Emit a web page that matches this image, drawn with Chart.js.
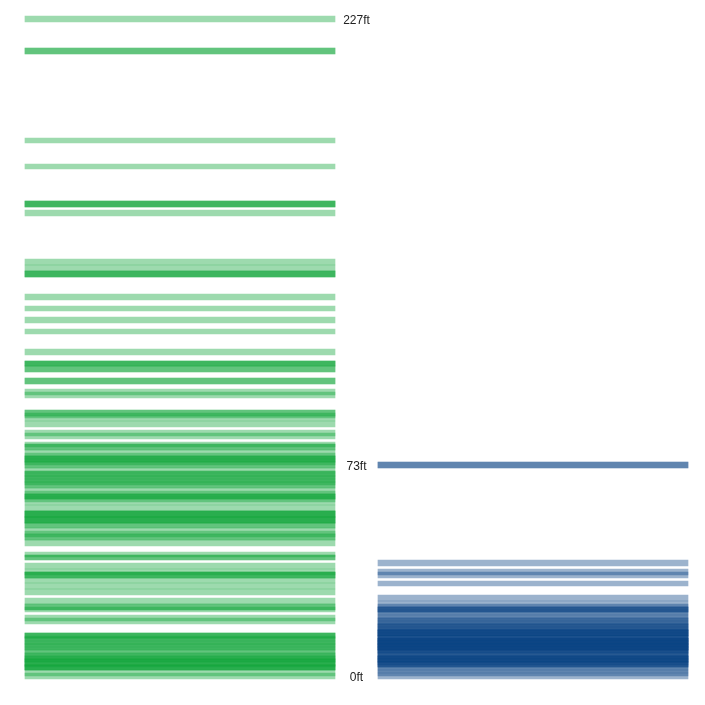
<!DOCTYPE html>
<html lang="en">
<head>
  <meta charset="UTF-8" />
  <title>Height barcode</title>
  <script src="https://cdn.jsdelivr.net/npm/chart.js"></script>
  <style>
    body {
      margin: 0;
      background: #fff;
    }
    canvas {
      display: block;
    }
  </style>
</head>
<body>
  <canvas id="barcode" width="705" height="705"></canvas>

  <script>
    // Two columns, one stripe per item at its height (ft)
    const columns = ['green', 'blue'];

    const greenHeights = [
      227, 216, 216, 185, 176, 163, 163, 163, 160, 143, 141, 139, 139, 139,
      131, 127, 123, 119, 112, 108, 108, 108, 106, 106, 102, 102, 98, 97,
      91, 91, 90, 89, 87, 84, 83, 80, 79, 79, 77, 76, 75, 75, 75, 74, 73, 73,
      71, 70, 70, 69, 68, 68, 67, 66, 66, 64, 63, 62, 62, 62, 61, 60, 58,
      56, 56, 56, 56, 54, 54, 54, 54, 52, 52, 50, 49, 48, 48, 46, 42, 41, 41,
      38, 36, 35, 35, 35, 33, 31, 29, 26, 24, 24, 23, 20, 19,
      14, 14, 14, 13, 12, 12, 11, 10, 10, 9, 8, 7, 7, 6, 6, 5, 5, 5, 4,
      3, 3, 3, 3, 1, 0
    ];

    const blueHeights = [
      73, 73, 39, 36, 35, 32, 27, 25, 24, 23, 23, 23, 22, 21, 20, 19, 19, 18,
      17, 17, 17, 16, 15, 15, 15, 15, 15, 14, 13, 13, 13, 12, 12, 12, 12,
      11, 11, 11, 10, 10, 10, 10, 9, 9, 9, 8, 8, 7, 7, 6, 6, 6, 6, 5, 5,
      4, 4, 4, 3, 2, 1, 0
    ];

    // labels drawn in the gap between the columns
    const labelValues = [227, 73, 0];

    const halfStripe = 1; // each stripe covers h-1 .. h+1 ft

    function stripes(column, heights) {
      return heights.map(h => ({ x: column, y: [h - halfStripe, h + halfStripe] }));
    }

    // snap stripe edges to whole pixels so they stay crisp
    const snapStripes = {
      id: 'snapStripes',
      afterDatasetsUpdate(chart) {
        chart.getSortedVisibleDatasetMetas().forEach(meta => {
          meta.data.forEach(bar => {
            bar.y = Math.round(bar.y);
            bar.base = Math.round(bar.base);
            bar.x = Math.round(bar.x);
          });
        });
      }
    };

    const gapLabels = {
      id: 'gapLabels',
      afterDatasetsDraw(chart) {
        const { ctx, scales: { x, y } } = chart;
        const cx = x.getPixelForValue(0.5);
        ctx.save();
        ctx.font = '12px "Liberation Sans", Arial, sans-serif';
        ctx.fillStyle = '#222';
        ctx.textAlign = 'center';
        ctx.textBaseline = 'alphabetic';
        labelValues.forEach(v => {
          ctx.fillText(v + 'ft', cx, y.getPixelForValue(v) + 5);
        });
        ctx.restore();
      }
    };

    new Chart(document.getElementById('barcode').getContext('2d'), {
      type: 'bar',
      data: {
        labels: columns,
        datasets: [
          {
            data: stripes('green', greenHeights),
            backgroundColor: 'rgba(10, 163, 52, 0.4)',
            borderWidth: 0,
            barThickness: 310,
            grouped: false,
            clip: false
          },
          {
            data: stripes('blue', blueHeights),
            backgroundColor: 'rgba(8, 64, 129, 0.4)',
            borderWidth: 0,
            barThickness: 310,
            grouped: false,
            clip: false
          }
        ]
      },
      options: {
        responsive: false,
        animation: false,
        layout: { padding: { left: 180, right: 172, top: 16, bottom: 26 } },
        scales: {
          x: { display: false, offset: false },
          y: { display: false, min: -1, max: 228 }
        },
        plugins: {
          legend: { display: false },
          tooltip: { enabled: false }
        }
      },
      plugins: [snapStripes, gapLabels]
    });
  </script>
</body>
</html>
